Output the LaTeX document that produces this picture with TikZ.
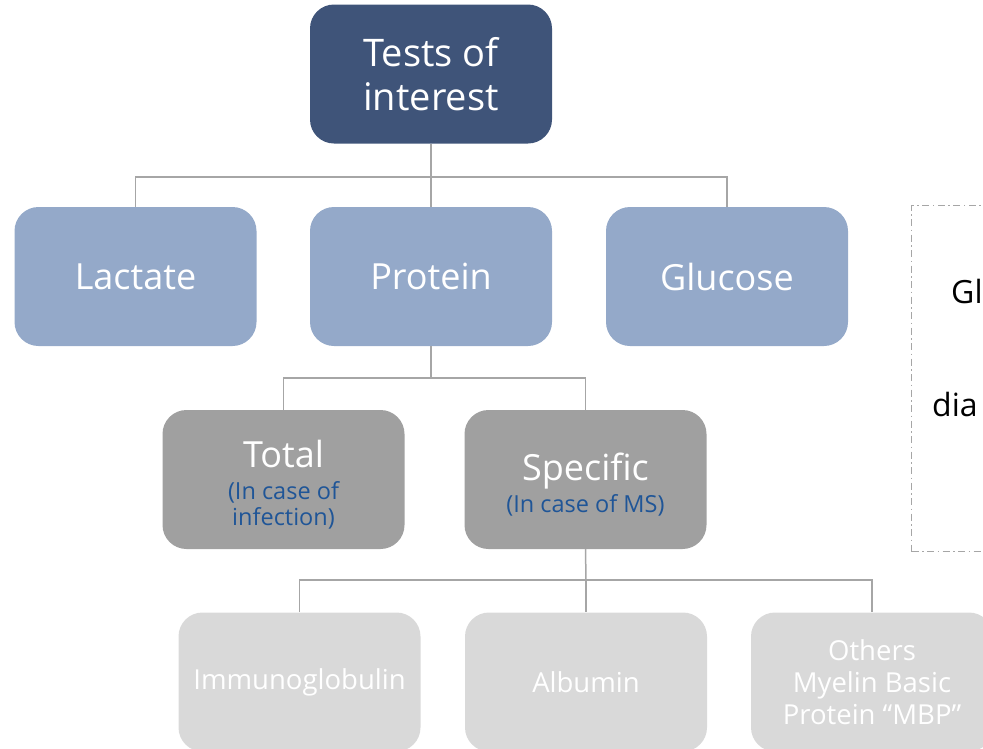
\documentclass[tikz,border=0pt]{standalone}
\usepackage{fontspec}
\setmainfont{Open Sans}
\definecolor{topc}{HTML}{3F5479}
\definecolor{midc}{HTML}{94A9C9}
\definecolor{grayc}{HTML}{A0A0A0}
\definecolor{lightc}{HTML}{D9D9D9}
\definecolor{linec}{HTML}{A6A6A6}
\definecolor{bluec}{HTML}{1F5597}
\newcommand\subtxt[1]{{\color{bluec}\fontsize{23.5}{28}\selectfont #1}}
\begin{document}
\begin{tikzpicture}[x=1pt,y=-1pt,
  box/.style={rectangle,rounded corners=24pt,minimum width=242pt,minimum height=139pt,align=center,text=white,inner sep=0pt},
  lvl0/.style={box,fill=topc,font=\fontsize{38}{44}\selectfont},
  lvl1/.style={box,fill=midc,font=\fontsize{36}{43}\selectfont},
  lvl2/.style={box,fill=grayc,font=\fontsize{36}{43}\selectfont},
  lvl3/.style={box,fill=lightc,font=\fontsize{27.5}{32}\selectfont},
  conn/.style={draw=linec,line width=1.5pt}]
\useasboundingbox (0,0) rectangle (983,748);
\clip (0,0) rectangle (983,748);
\node[lvl0] (top) at (431,74) {Tests of\\interest};
\node[lvl1] (lac) at (135.5,276.5) {Lactate};
\node[lvl1] (pro) at (431,276.5) {Protein};
\node[lvl1] (glu) at (727,276.5) {Glucose};
\node[lvl2] (tot) at (283.5,479.5) {\rule{0pt}{37pt}Total\\[-11pt]\subtxt{(In case of}\\[-17pt]\subtxt{infection)}};
\node[lvl2] (spe) at (585.5,479.5) {\rule{0pt}{37pt}Specific\\[-11pt]\subtxt{(In case of MS)}};
\node[lvl3] (imm) at (299.5,682) {Immunoglobulin};
\node[lvl3] (alb) at (586,682) {Albumin};
\node[lvl3] (oth) at (872,682) {Others\\Myelin Basic\\Protein “MBP”};
\coordinate (j1) at (431,177);
\coordinate (j2) at (431,378);
\coordinate (j3) at (586,580);
\draw[conn] (top.south) -- (j1);
\draw[conn] (j1) -| (lac.north);
\draw[conn] (j1) -- (pro.north);
\draw[conn] (j1) -| (glu.north);
\draw[conn] (pro.south) -- (j2);
\draw[conn] (j2) -| (tot.north);
\draw[conn] (j2) -| (spe.north);
\draw[conn] (spe.south) -- (j3);
\draw[conn] (j3) -| (imm.north);
\draw[conn] (j3) -- (alb.north);
\draw[conn] (j3) -| (oth.north);
\node[draw=linec,dash pattern=on 7pt off 3.5pt on 1.5pt off 3.5pt,line width=1.2pt,minimum width=200pt,minimum height=346pt,anchor=north west,inner sep=0pt] (note) at (911,205) {};
\node[anchor=base west,font=\fontsize{32}{38}\selectfont,inner sep=0pt] (g) at (951,303) {Gl};
\node[anchor=base west,font=\fontsize{32}{38}\selectfont,inner sep=0pt] (d) at (932,416) {dia};
\end{tikzpicture}
\end{document}
